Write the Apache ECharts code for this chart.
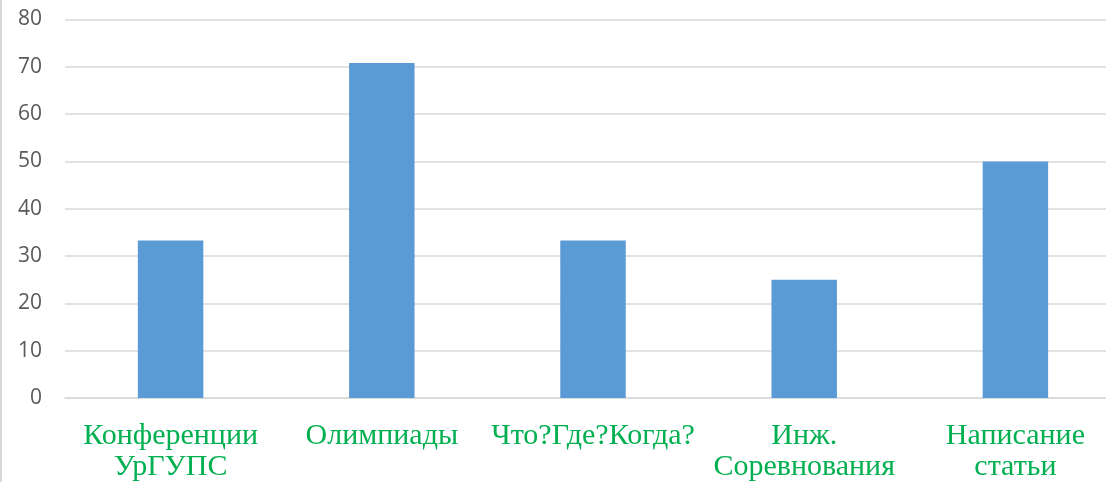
<!DOCTYPE html>
<html>
<head>
<meta charset="utf-8">
<script src="https://cdn.jsdelivr.net/npm/echarts@6/dist/echarts.min.js"></script>
<style>
html,body{margin:0;padding:0;background:#fff;}
#c{width:1106px;height:482px;}
</style>
</head>
<body>
<div id="c"></div>
<script>
const categories = ["Конференции\nУрГУПС", "Олимпиады", "Что?Где?Когда?", "Инж.\nСоревнования", "Написание\nстатьи"];
const values = [33.3, 70.8, 33.3, 25, 50];
const yTicks = [0, 10, 20, 30, 40, 50, 60, 70, 80];

const chart = echarts.init(document.getElementById('c'), null, {renderer: 'canvas'});
chart.setOption({
  animation: false,
  backgroundColor: '#ffffff',
  grid: {left: 65, top: 19.5, right: -15, bottom: 84, containLabel: false, outerBoundsMode: 'none'},
  xAxis: {
    type: 'category',
    data: categories,
    axisLine: {show: true, lineStyle: {color: '#d9d9d9', width: 1.5}},
    axisTick: {show: false},
    axisLabel: {
      color: '#00b050',
      fontFamily: 'Liberation Serif',
      fontSize: 30,
      lineHeight: 31,
      margin: 23,
      interval: 0
    }
  },
  yAxis: {
    type: 'value',
    min: yTicks[0],
    max: yTicks[yTicks.length - 1],
    interval: 10,
    axisLine: {show: false},
    axisTick: {show: false},
    splitLine: {lineStyle: {color: '#d9d9d9', width: 1.5}},
    axisLabel: {
      color: '#595959',
      fontFamily: 'Open Sans',
      fontSize: 21,
      margin: 23
    }
  },
  series: [{
    type: 'bar',
    data: values,
    barWidth: '31%',
    itemStyle: {color: '#5b9bd5'}
  }],
  graphic: [{
    type: 'rect',
    left: 0, top: 0,
    shape: {x: 0, y: 0, width: 2, height: 482},
    style: {fill: '#d9d9d9'}
  }]
});
</script>
</body>
</html>
